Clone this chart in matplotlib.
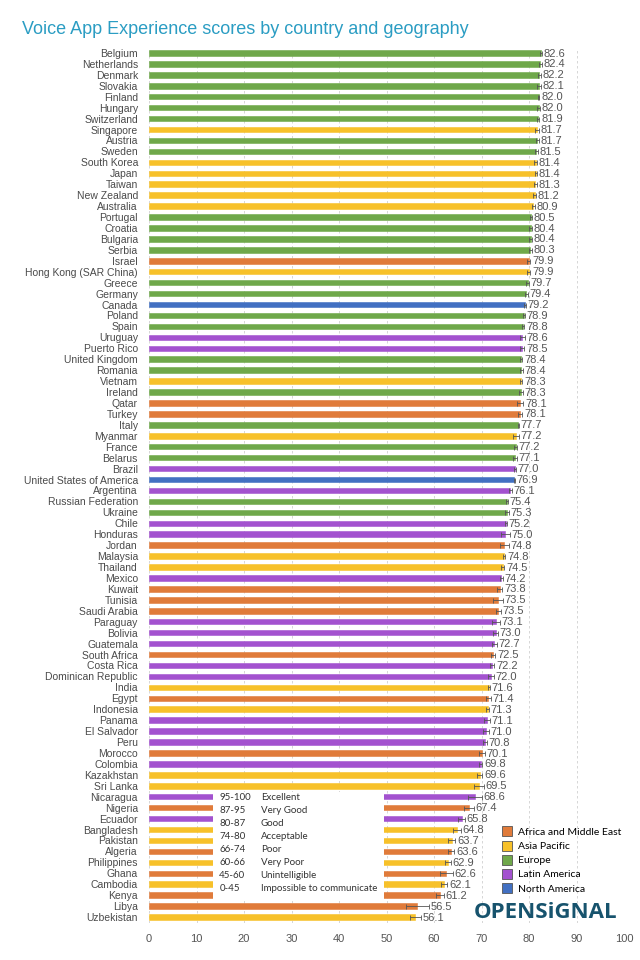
import matplotlib
matplotlib.use("Agg")
import matplotlib.pyplot as plt
from matplotlib.patches import Rectangle, Patch

plt.rcParams['font.family'] = ['Liberation Sans', 'DejaVu Sans']

countries = ["Belgium", "Netherlands", "Denmark", "Slovakia", "Finland", "Hungary",
             "Switzerland", "Singapore", "Austria", "Sweden", "South Korea", "Japan",
             "Taiwan", "New Zealand", "Australia", "Portugal", "Croatia", "Bulgaria",
             "Serbia", "Israel", "Hong Kong (SAR China)", "Greece", "Germany", "Canada",
             "Poland", "Spain", "Uruguay", "Puerto Rico", "United Kingdom", "Romania",
             "Vietnam", "Ireland", "Qatar", "Turkey", "Italy", "Myanmar", "France",
             "Belarus", "Brazil", "United States of America", "Argentina",
             "Russian Federation", "Ukraine", "Chile", "Honduras", "Jordan", "Malaysia",
             "Thailand", "Mexico", "Kuwait", "Tunisia", "Saudi Arabia", "Paraguay",
             "Bolivia", "Guatemala", "South Africa", "Costa Rica", "Dominican Republic",
             "India", "Egypt", "Indonesia", "Panama", "El Salvador", "Peru", "Morocco",
             "Colombia", "Kazakhstan", "Sri Lanka", "Nicaragua", "Nigeria", "Ecuador",
             "Bangladesh", "Pakistan", "Algeria", "Philippines", "Ghana", "Cambodia",
             "Kenya", "Libya", "Uzbekistan"]

scores = [82.6, 82.4, 82.2, 82.1, 82.0, 82.0, 81.9, 81.7, 81.7, 81.5, 81.4, 81.4,
          81.3, 81.2, 80.9, 80.5, 80.4, 80.4, 80.3, 79.9, 79.9, 79.7, 79.4, 79.2,
          78.9, 78.8, 78.6, 78.5, 78.4, 78.4, 78.3, 78.3, 78.1, 78.1, 77.7, 77.2,
          77.2, 77.1, 77.0, 76.9, 76.1, 75.4, 75.3, 75.2, 75.0, 74.8, 74.8, 74.5,
          74.2, 73.8, 73.5, 73.5, 73.1, 73.0, 72.7, 72.5, 72.2, 72.0, 71.6, 71.4,
          71.3, 71.1, 71.0, 70.8, 70.1, 69.8, 69.6, 69.5, 68.6, 67.4, 65.8, 64.8,
          63.7, 63.6, 62.9, 62.6, 62.1, 61.2, 56.5, 56.1]

# E=Europe, A=Asia Pacific, M=Africa and Middle East, L=Latin America, N=North America
regions = ["E", "E", "E", "E", "E", "E", "E", "A", "E", "E", "A", "A",
           "A", "A", "A", "E", "E", "E", "E", "M", "A", "E", "E", "N",
           "E", "E", "L", "L", "E", "E", "A", "E", "M", "M", "E", "A",
           "E", "E", "L", "N", "L", "E", "E", "L", "L", "M", "A", "A",
           "L", "M", "M", "M", "L", "L", "L", "M", "L", "L", "A", "M",
           "A", "L", "L", "L", "M", "L", "A", "A", "L", "M", "L", "A",
           "A", "M", "A", "M", "A", "M", "M", "A"]

# confidence interval half widths (estimated)
errs = [0.2, 0.3, 0.3, 0.4, 0.2, 0.3, 0.3, 0.4, 0.3, 0.3, 0.3, 0.2,
        0.3, 0.3, 0.3, 0.2, 0.3, 0.3, 0.4, 0.4, 0.4, 0.3, 0.3, 0.2,
        0.2, 0.2, 0.5, 0.5, 0.2, 0.3, 0.3, 0.4, 0.7, 0.5, 0.1, 0.6,
        0.3, 0.4, 0.2, 0.1, 0.3, 0.2, 0.4, 0.2, 1.0, 1.0, 0.2, 0.3,
        0.3, 0.6, 1.0, 0.5, 0.8, 0.5, 0.5, 0.4, 0.5, 0.6, 0.2, 0.5,
        0.3, 0.6, 0.6, 0.4, 0.6, 0.4, 0.6, 1.0, 1.4, 1.0, 0.7, 0.9,
        0.8, 0.7, 0.6, 1.3, 0.7, 0.8, 2.5, 1.2]

region_names = {"M": "Africa and Middle East", "A": "Asia Pacific", "E": "Europe",
                "L": "Latin America", "N": "North America"}
region_colors = {"M": "#E07B3A", "A": "#F7C12A", "E": "#6FA84A",
                 "L": "#A352CF", "N": "#4270C2"}

bands = ["95-100", "87-95", "80-87", "74-80", "66-74", "60-66", "45-60", "0-45"]
band_names = ["Excellent", "Very Good", "Good", "Acceptable", "Poor", "Very Poor",
              "Unintelligible", "Impossible to communicate"]

fig = plt.figure(figsize=(6.4, 9.6), dpi=100)
ax = fig.add_axes([149/640, 1-922.5/960, 475/640, 875/960])

y = list(range(len(countries)))
cols = [region_colors[r] for r in regions]
ax.barh(y, scores, height=0.5, color=cols, edgecolor=cols, linewidth=0.4, zorder=2)
ax.errorbar(scores, y, xerr=errs, fmt='none', ecolor='#555555', elinewidth=0.6,
            capsize=1.8, capthick=0.6, zorder=3)
for i in y:
    ax.text(scores[i] + errs[i] + 0.35, i + 0.05, "%.1f" % scores[i], va='center', ha='left',
            fontsize=8, color='#555555', zorder=4)

ax.set_xlim(0, 100)
ax.set_ylim(len(countries) - 0.5, -0.5)
ax.set_xticks(range(0, 101, 10))
ax.set_yticks(y)
ax.set_yticklabels(countries)
ax.tick_params(axis='y', length=0, pad=8, labelsize=7.5, labelcolor='#4a4a4a')
ax.tick_params(axis='x', length=0, pad=8, labelsize=8, labelcolor='#555555')
for s in ax.spines.values():
    s.set_visible(False)
ax.grid(axis='x', color='#d0d0d0', linestyle=(0, (3, 3)), linewidth=0.6, zorder=0)
ax.set_axisbelow(True)

# score bands box
ax.add_patch(Rectangle((13.5, 67.6), 36.0, 9.8, facecolor='white', edgecolor='none', zorder=5))
for k in range(len(bands)):
    yy = 68.1 + k * 1.18
    ax.text(14.8, yy, bands[k], fontsize=7, color='#333333', family='Lato', va='center', zorder=6)
    ax.text(23.5, yy, band_names[k], fontsize=7, color='#333333', family='Lato', va='center', zorder=6)

handles = [Patch(facecolor=region_colors[k], edgecolor='#555555', linewidth=0.6,
                 label=region_names[k]) for k in ["M", "A", "E", "L", "N"]]
fig.legend(handles=handles, loc='upper left', bbox_to_anchor=(493/640, 1-817/960),
           frameon=False, handlelength=0.9, handleheight=1.1,
           handletextpad=0.6, labelspacing=0.35, prop={'family': 'Lato', 'size': 7.5})

fig.text(22/640, 1-30/960, "Voice App Experience scores by country and geography",
         fontsize=13, color='#2B9DC3', va='center', ha='left')

fig.text(546/640, 1-913/960, "OPENSiGNAL", fontsize=16, fontweight='bold',
         color='#17536D', ha='center', va='center', family='Open Sans')

fig.savefig("out.png", dpi=100)
